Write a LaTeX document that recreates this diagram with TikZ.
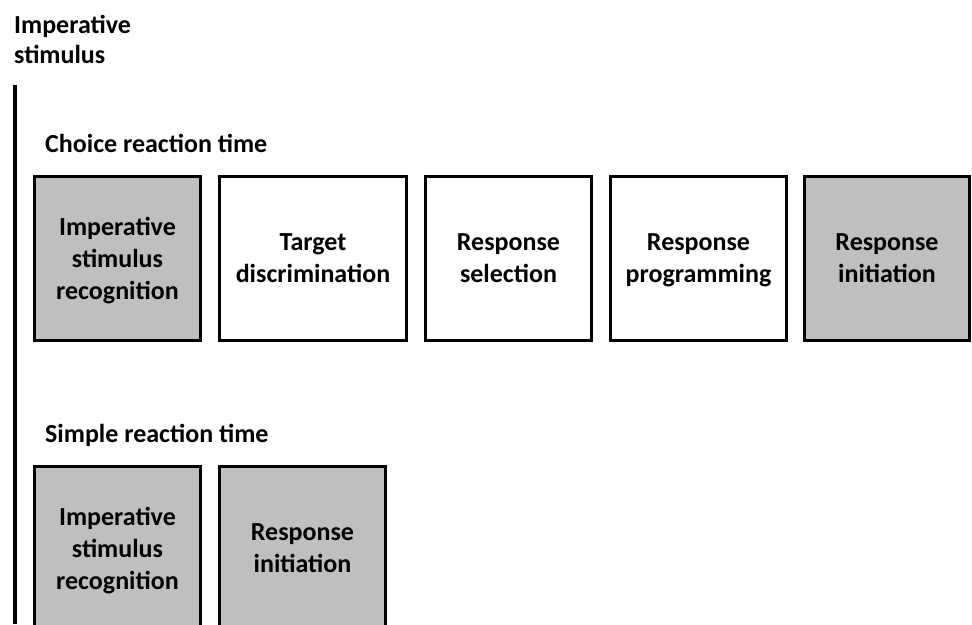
\documentclass[tikz,border=0pt]{standalone}
\usepackage{fontspec}
\setmainfont{Carlito}
\usetikzlibrary{positioning}
\definecolor{stagegray}{RGB}{191,191,191}

\begin{document}
\begin{tikzpicture}[x=1pt,y=-1pt,
        txt/.style={font=\fontsize{26}{30}\selectfont\bfseries,inner sep=0pt},
        stage/.style={draw,line width=2.7pt,minimum height=164.3pt,inner sep=0pt,align=center,font=\fontsize{26}{32}\selectfont\bfseries},
        early/.style={stage,fill=stagegray}]
        \useasboundingbox (0,0) rectangle (972,624);
        \node[txt,anchor=north west,align=left] (imp) at (14,15) {Imperative\\stimulus};
        \coordinate (ltop) at (15,85);
        \coordinate (lbot) at (15,624);
        \draw[line width=4pt] (ltop) -- (lbot);
        % choice reaction time
        \node[txt,anchor=base west] (choice) at (45,152) {Choice reaction time};
        \node[early,minimum width=166.3pt,anchor=north west] (c1) at (33,175) {Imperative\\stimulus\\\smash{recognition}};
        \node[stage,minimum width=187.3pt,right=16pt of c1] (c2) {Target\\discrimination};
        \node[stage,minimum width=166.3pt,right=16pt of c2] (c3) {Response\\selection};
        \node[stage,minimum width=176.3pt,right=16pt of c3] (c4) {Response\\\smash{programming}};
        \node[early,minimum width=165.3pt,right=15pt of c4] (c5) {Response\\initiation};
        % simple reaction time
        \node[txt,anchor=base west] (simple) at (45,442) {Simple reaction time};
        \node[early,minimum width=166.3pt,anchor=north west] (s1) at (33,465) {Imperative\\stimulus\\\smash{recognition}};
        \node[early,minimum width=166.3pt,right=16pt of s1] (s2) {Response\\initiation};
\end{tikzpicture}
\end{document}
